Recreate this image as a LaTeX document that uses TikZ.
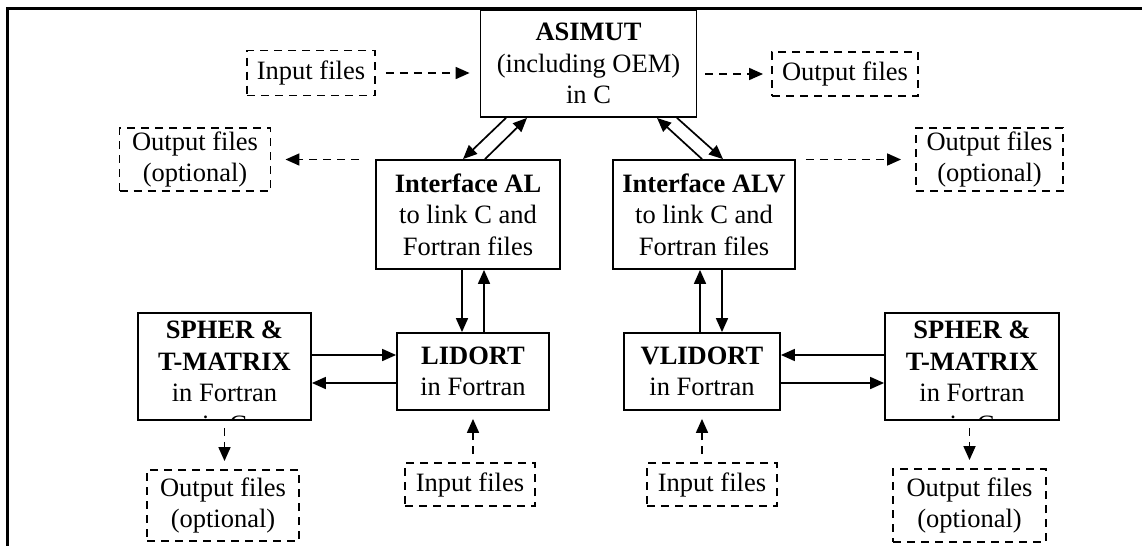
\documentclass[tikz,border=0pt]{standalone}
\usepackage{fontspec}
\setmainfont{Liberation Serif}
\usetikzlibrary{arrows.meta}
\begin{document}
\begin{tikzpicture}[x=1pt,y=-1pt,
  every node/.style={font=\fontsize{26.5}{31.5}\selectfont, align=center, inner sep=0pt},
  box/.style={draw, line width=1.8pt, rectangle},
  dbox/.style={draw, line width=1.9pt, dash pattern=on 8pt off 6pt},
  arr/.style={line width=1.7pt, -{Triangle[length=14pt,width=12pt]}},
  darr/.style={arr, dash pattern=on 8pt off 6pt}]
\useasboundingbox (0,0) rectangle (1142,546);
\draw[line width=3pt] (1142,8) -- (7,8) -- (7,546);

% solid boxes
\node[box, minimum width=216pt, minimum height=107pt] (asimut) at (588.5,63.5) {\textbf{ASIMUT}\\(including OEM)\\in C};
\node[box, minimum width=184pt, minimum height=109pt] (al) at (468,214.5) {\textbf{Interface AL}\\to link C and\\Fortran files};
\node[box, minimum width=182pt, minimum height=109pt] (alv) at (704,214.5) {\textbf{Interface ALV}\\to link C and\\Fortran files};
\node[box, minimum width=152pt, minimum height=77pt] (lid) at (473,371.5) {\textbf{LIDORT}\\in Fortran};
\node[box, minimum width=156pt, minimum height=77pt] (vlid) at (702,371.5) {\textbf{VLIDORT}\\in Fortran};
\node[box, minimum width=173pt, minimum height=107pt] (sphl) at (224.5,366.5) {};
\node[box, minimum width=174pt, minimum height=107pt] (sphr) at (972,366.5) {};
\begin{scope}
  \clip (sphl.south west) rectangle (sphl.north east);
  \node[anchor=north] (sphltext) at ([yshift=-9pt]sphl.north) {\textbf{SPHER \&}\\\textbf{T-MATRIX}\\in Fortran\\in C};
\end{scope}
\begin{scope}
  \clip (sphr.south west) rectangle (sphr.north east);
  \node[anchor=north] (sphrtext) at ([yshift=-9pt]sphr.north) {\textbf{SPHER \&}\\\textbf{T-MATRIX}\\in Fortran\\in C};
\end{scope}

% dashed boxes
\node[dbox, minimum width=128pt, minimum height=45pt] (inT) at (311,73) {Input files};
\node[dbox, minimum width=146pt, minimum height=44pt] (outT) at (845,74) {Output files};
\node[dbox, minimum width=151pt, minimum height=63pt] (outL) at (195,159.5) {Output files\\(optional)};
\node[dbox, minimum width=147pt, minimum height=63pt] (outR) at (989.5,159.5) {Output files\\(optional)};
\node[dbox, minimum width=152pt, minimum height=71pt] (outBL) at (223,505.5) {Output files\\(optional)};
\node[dbox, minimum width=153pt, minimum height=73pt] (outBR) at (969.5,505.5) {Output files\\(optional)};
\node[dbox, minimum width=130pt, minimum height=43pt] (inBL) at (470,484.5) {Input files};
\node[dbox, minimum width=130pt, minimum height=43pt] (inBR) at (712,484.5) {Input files};

% solid connectors
\draw[arr] (asimut.south -| 506,0) -- (al.north -| 463,0);
\draw[arr] (al.north -| 485,0) -- (asimut.south -| 527,0);
\draw[arr] (alv.north -| 702,0) -- (asimut.south -| 657,0);
\draw[arr] (asimut.south -| 677,0) -- (alv.north -| 723,0);
\draw[arr] (al.south -| 462,0) -- (lid.north -| 462,0);
\draw[arr] (lid.north -| 484,0) -- (al.south -| 484,0);
\draw[arr] (vlid.north -| 700,0) -- (alv.south -| 700,0);
\draw[arr] (alv.south -| 722,0) -- (vlid.north -| 722,0);
\draw[arr] (sphl.east |- 0,355) -- (lid.west |- 0,355);
\draw[arr] (lid.west |- 0,383) -- (sphl.east |- 0,383);
\draw[arr] (sphr.west |- 0,355) -- (vlid.east |- 0,355);
\draw[arr] (vlid.east |- 0,383) -- (sphr.west |- 0,383);

% dashed connectors
\draw[darr, shorten <=10pt, shorten >=10pt] (inT.east) -- (asimut.west |- inT.east);
\draw[darr, shorten <=8pt, shorten >=8pt] (asimut.east |- outT.west) -- (outT.west);
\draw[darr, shorten <=16pt, shorten >=14pt] (al.west |- outL.east) -- (outL.east);
\draw[darr, shorten <=10pt, shorten >=14pt] (alv.east |- outR.west) -- (outR.west);
\draw[darr, shorten <=7pt, shorten >=8pt] (sphl.south) -- (sphl.south |- outBL.north);
\draw[darr, shorten <=7pt, shorten >=8pt] (outBR.north |- sphr.south) -- (outBR.north);
\draw[darr, shorten <=8pt, shorten >=8pt] (lid.south |- inBL.north) -- (lid.south);
\draw[darr, shorten <=8pt, shorten >=8pt] (vlid.south |- inBR.north) -- (vlid.south);
\end{tikzpicture}
\end{document}
